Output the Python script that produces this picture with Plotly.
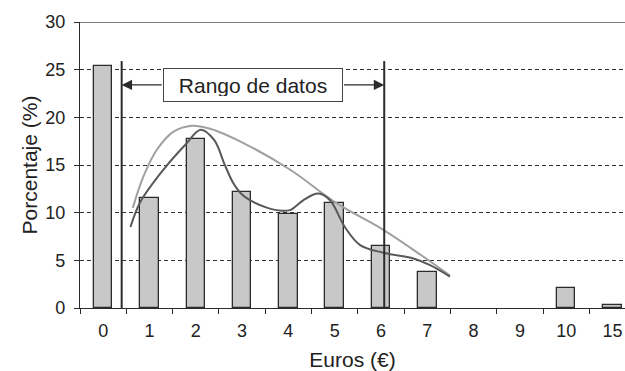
import plotly.graph_objects as go

categories = ["0", "1", "2", "3", "4", "5", "6", "7", "8", "9", "10", "15"]
percent = [25.4, 11.5, 17.7, 12.2, 9.9, 11.0, 6.5, 3.8, 0, 0, 2.1, 0.35]

# dark smoothed curve (x in category positions)
dark_x = [0.59, 0.80, 1.30, 1.77, 2.11, 2.40, 2.62, 2.80, 3.00, 3.25, 3.55, 3.85, 4.05, 4.32, 4.65, 4.90, 5.22, 5.55, 6.05, 6.70, 7.06, 7.49]
dark_y = [8.5, 11.1, 14.5, 17.1, 18.7, 17.6, 15.1, 13.2, 11.9, 11.1, 10.5, 10.2, 10.3, 11.3, 12.0, 11.3, 8.5, 6.6, 5.8, 5.2, 4.5, 3.3]

# light smoothed curve
light_x = [0.64, 0.87, 1.16, 1.52, 1.88, 2.31, 3.03, 4.04, 5.04, 6.05, 6.91, 7.49]
light_y = [10.5, 13.8, 16.6, 18.5, 19.1, 18.8, 17.3, 14.5, 11.0, 8.2, 5.4, 3.4]

range_left = 0.4
range_right = 6.07
range_top = 25.9
arrow_y = 23.4
box_left = 1.3
box_right = 5.17
box_label = "Rango de datos"

positions = list(range(len(categories)))
dark = "#2b2b2b"
fam = "Liberation Sans, Arial, sans-serif"
font = dict(family=fam, size=18, color="#222")

fig = go.Figure()
fig.add_trace(go.Bar(x=positions, y=percent, width=0.4,
                     marker=dict(color="#c8c8c8",
                                 line=dict(color=dark, width=[1.3 if v > 0 else 0 for v in percent])),
                     showlegend=False))
fig.add_trace(go.Scatter(x=light_x, y=light_y, mode="lines",
                         line=dict(color="#a0a0a0", width=2, shape="spline", smoothing=1),
                         showlegend=False))
fig.add_trace(go.Scatter(x=dark_x, y=dark_y, mode="lines",
                         line=dict(color="#585858", width=2, shape="spline", smoothing=1),
                         showlegend=False))

for xv in (range_left, range_right):
    fig.add_shape(type="line", x0=xv, x1=xv, y0=0, y1=range_top,
                  line=dict(color=dark, width=2), layer="above")
fig.add_shape(type="line", xref="paper", x0=0, x1=1, y0=30, y1=30,
              line=dict(color="#555", width=1.5))

fig.add_annotation(x=(box_left + box_right) / 2, y=arrow_y, text=box_label,
                   showarrow=False, font=dict(family=fam, size=21, color="#222"),
                   bordercolor="#444", borderwidth=1,
                   bgcolor="white", borderpad=5, width=168, height=22)
fig.add_annotation(x=range_left, y=arrow_y, ax=box_left, ay=arrow_y, axref="x", ayref="y",
                   showarrow=True, arrowhead=2, arrowsize=1.6, arrowwidth=1.3,
                   arrowcolor=dark, text="")
fig.add_annotation(x=range_right, y=arrow_y, ax=box_right, ay=arrow_y, axref="x", ayref="y",
                   showarrow=True, arrowhead=2, arrowsize=1.6, arrowwidth=1.3,
                   arrowcolor=dark, text="")

fig.update_layout(
    width=625, height=371,
    margin=dict(l=80, r=0, t=22, b=63),
    plot_bgcolor="white", paper_bgcolor="white",
    font=font, bargap=0,
    xaxis=dict(range=[-0.5, 11.27], tickvals=positions, ticktext=categories,
               ticks="", showgrid=False, zeroline=False, automargin=False,
               showline=True, linecolor=dark, linewidth=1.3,
               ticklabelstandoff=6,
               minor=dict(ticks="outside", tick0=0.5, dtick=1, ticklen=5,
                          tickcolor=dark, tickwidth=1.3, showgrid=False),
               title=dict(text="Euros (€)", standoff=15, font=dict(family=fam, size=21))),
    yaxis=dict(range=[0, 30], tickvals=[0, 5, 10, 15, 20, 25, 30],
               ticks="outside", ticklen=5, tickcolor=dark, tickwidth=1.3,
               showline=True, linecolor=dark, linewidth=1.3, automargin=False,
               ticklabelstandoff=5,
               showgrid=True, gridcolor="#333", gridwidth=1, griddash="4px,3px",
               zeroline=False,
               title=dict(text="Porcentaje (%)", standoff=1, font=dict(family=fam, size=21))),
)

fig.write_html("out.html", config={"displayModeBar": False},
               post_script="document.body.style.margin='0';document.body.style.overflow='hidden';")
